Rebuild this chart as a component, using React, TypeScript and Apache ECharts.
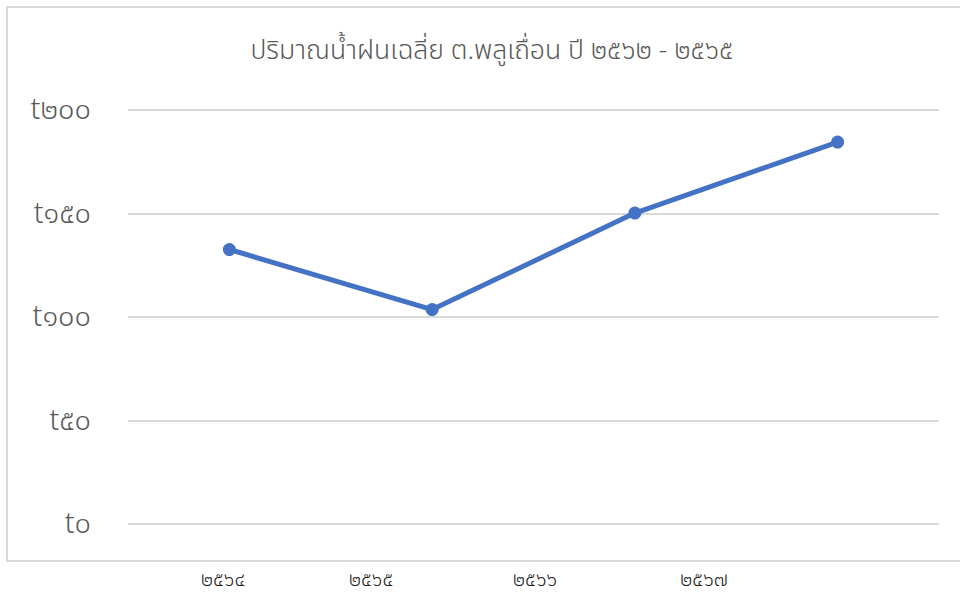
import React, { useEffect, useRef } from "react";
import * as echarts from "echarts";

const titleText = "ปริมาณน้ำฝนเฉลี่ย ต.พลูเถื่อน ปี ๒๕๖๒ - ๒๕๖๕";
const categories = ["๒๕๖๔", "๒๕๖๕", "๒๕๖๖", "๒๕๖๗"];
const rainfall = [132.6, 103.6, 150.2, 184.5];
const yTickValues = [0, 50, 100, 150, 200];
const yTickLabels = ["t๐", "t๕๐", "t๑๐๐", "t๑๕๐", "t๒๐๐"];
// x positions (px) where the category labels appear in the picture
const xLabelPositions = [223, 371, 535, 704];

const FONT = "'Noto Sans Thai', 'Leelawadee UI', 'Tahoma', 'DejaVu Sans', 'Noto Sans', sans-serif";

export default function App() {
  const ref = useRef<HTMLDivElement>(null);
  useEffect(() => {
    if (!ref.current) return;
    const chart = echarts.init(ref.current, undefined, { renderer: "svg" });
    chart.setOption({
      animation: false,
      backgroundColor: "#ffffff",
      title: {
        text: titleText,
        left: 487,
        textAlign: "center",
        top: 32,
        textStyle: { fontFamily: FONT, fontSize: 26.5, fontWeight: 300, color: "#595959" },
      },
      grid: { left: 128, right: 21, top: 110, bottom: 71, containLabel: false },
      xAxis: {
        type: "category",
        data: categories,
        boundaryGap: true,
        axisLine: { show: false },
        axisTick: { show: false },
        axisLabel: { show: false },
      },
      yAxis: {
        type: "value",
        min: 0,
        max: 200,
        interval: 50,
        axisLine: { show: false },
        axisTick: { show: false },
        splitLine: { lineStyle: { color: "#d9d9d9", width: 2 } },
        axisLabel: {
          margin: 37,
          fontFamily: FONT,
          fontSize: 29,
          fontWeight: 300,
          color: "#595959",
          formatter: (v: number) => {
            const i = yTickValues.indexOf(v);
            return i >= 0 ? yTickLabels[i] : "";
          },
        },
      },
      series: [
        {
          type: "line",
          data: rainfall,
          symbol: "circle",
          symbolSize: 13,
          lineStyle: { color: "#4472C4", width: 5 },
          itemStyle: { color: "#4472C4" },
        },
      ],
      graphic: [
        {
          type: "rect",
          shape: { x: 7, y: 7, width: 965, height: 554 },
          style: { fill: "none", stroke: "#d9d9d9", lineWidth: 2 },
          silent: true,
          z: -1,
        },
        ...categories.map((c, i) => ({
          type: "text",
          x: xLabelPositions[i],
          y: 580,
          style: {
            text: c,
            fontFamily: FONT,
            fontSize: 20,
            fontWeight: 300,
            fill: "#222222",
            textAlign: "center",
            textVerticalAlign: "middle",
          },
        })),
      ],
    });
    return () => chart.dispose();
  }, []);
  return <div ref={ref} style={{ width: 960, height: 595, position: "absolute", left: 0, top: 0 }} />;
}
